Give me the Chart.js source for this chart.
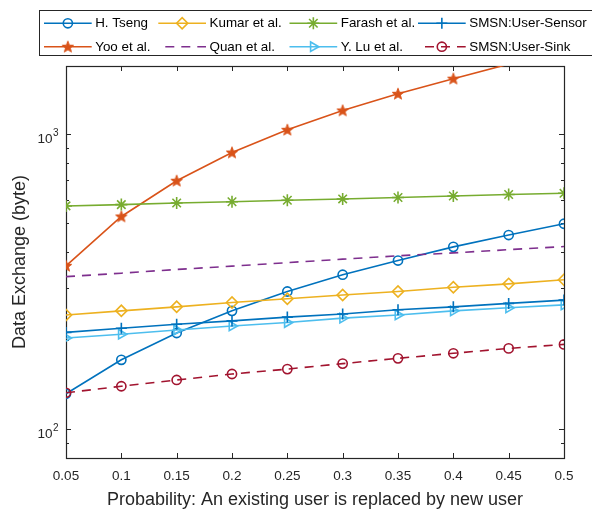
<!DOCTYPE html>
<html><head><meta charset="utf-8">
<script src="https://cdn.jsdelivr.net/npm/chart.js"></script>
<style>html,body{margin:0;padding:0;background:#fff}#wrap{width:592px;height:514px;position:relative}</style>
</head><body><div id="wrap"><canvas id="c" width="592" height="514"></canvas></div>
<script>
// ---- data ----
const probabilities = [0.05, 0.1, 0.15, 0.2, 0.25, 0.3, 0.35, 0.4, 0.45, 0.5];
const xTickLabels = ['0.05', '0.1', '0.15', '0.2', '0.25', '0.3', '0.35', '0.4', '0.45', '0.5'];
const hTseng     = [132, 172, 212, 252, 293, 334, 373, 415, 455, 497];
const yoo        = [358, 526, 695, 866, 1034, 1202, 1369, 1540, 1725, 1885];
const kumar      = [244, 252, 260, 269, 277, 285, 293, 303, 311, 321];
const quan       = [329, 338, 348, 357, 367, 377, 387, 396, 406, 416];
const farash     = [571, 577, 584, 590, 597, 603, 610, 617, 624, 630];
const yLu        = [204, 210, 217, 224, 230, 238, 244, 252, 258, 264];
const smsnSensor = [213, 220, 227, 233, 240, 246, 254, 260, 267, 274];
const smsnSink   = [133, 140, 147, 154, 160, 167, 174, 181, 188, 194];
const seriesNames = ['H. Tseng', 'Yoo et al.', 'Kumar et al.', 'Quan et al.', 'Farash et al.', 'Y. Lu et al.', 'SMSN:User-Sensor', 'SMSN:User-Sink'];
const yTickValues = [100, 1000];
const yTickBase = ['10', '10'];
const yTickExponents = ['2', '3'];
const yMinorTicks = [90, 200, 300, 400, 500, 600, 700, 800, 900];
const xTitle = 'Probability: An existing user is replaced by new user';
const yTitle = 'Data Exchange (byte)';
const Y_MIN = 80, Y_MAX = 1700;

// ---- styles ----
const FONT = '"Liberation Sans", Arial, Helvetica, sans-serif';
const AX = '#262626';
const C = {blue:'#0072BD', orange:'#D95319', yellow:'#EDB120', purple:'#7E2F8E', green:'#77AC30', cyan:'#4DBEEE', red:'#A2142F'};
const DASH = [9, 7];

function makePentagram(color) {
  const c = document.createElement('canvas'); c.width = 14; c.height = 14;
  const g = c.getContext('2d');
  g.beginPath();
  for (let i = 0; i < 10; i++) {
    const r = i % 2 ? 2.5 : 6;
    const a = -Math.PI / 2 + i * Math.PI / 5;
    const px = 7 + r * Math.cos(a), py = 7.4 + r * Math.sin(a);
    if (i) g.lineTo(px, py); else g.moveTo(px, py);
  }
  g.closePath();
  g.fillStyle = color; g.fill();
  g.strokeStyle = color; g.lineWidth = 1; g.stroke();
  return c;
}
const star = makePentagram(C.orange);

function pts(arr) { return probabilities.map((p, i) => ({x: p, y: arr[i]})); }
const hideAbove = r => ctx => (ctx.raw && ctx.raw.y > Y_MAX) ? 0 : r;

const specs = [
  {data: hTseng, color: C.blue, style: 'circle', r: 4.6},
  {data: yoo, color: C.orange, style: star, r: 6},
  {data: kumar, color: C.yellow, style: 'rectRot', r: 5.6},
  {data: quan, color: C.purple, style: false, r: 0, dash: DASH},
  {data: farash, color: C.green, style: 'star', r: 6},
  {data: yLu, color: C.cyan, style: 'triangle', r: 5.5, rot: 90},
  {data: smsnSensor, color: C.blue, style: 'cross', r: 5.5},
  {data: smsnSink, color: C.red, style: 'circle', r: 4.6, dash: DASH},
];

const datasets = specs.map((s, i) => ({
  label: seriesNames[i],
  data: pts(s.data),
  borderColor: s.color,
  backgroundColor: 'rgba(0,0,0,0)',
  borderWidth: 1.6,
  borderDash: s.dash || [],
  pointStyle: s.style,
  pointRadius: hideAbove(s.r),
  pointRotation: s.rot || 0,
  pointBorderColor: s.color,
  pointBackgroundColor: 'rgba(0,0,0,0)',
  pointBorderWidth: 1.6,
  tension: 0,
  order: specs.length - i
}));

const axesBox = {
  id: 'axesBox',
  beforeDatasetsDraw(chart) {
    const {ctx, chartArea: a, scales: {x, y}} = chart;
    ctx.save();
    ctx.strokeStyle = AX; ctx.lineWidth = 1.2;
    ctx.strokeRect(Math.round(a.left) + 0.5, Math.round(a.top) + 0.5, Math.round(a.right - a.left), Math.round(a.bottom - a.top));
    ctx.lineWidth = 1;
    ctx.beginPath();
    probabilities.forEach(p => {
      const px = Math.round(x.getPixelForValue(p)) + 0.5;
      ctx.moveTo(px, a.bottom); ctx.lineTo(px, a.bottom - 5);
      ctx.moveTo(px, a.top); ctx.lineTo(px, a.top + 5);
    });
    yTickValues.forEach(v => {
      const py = Math.round(y.getPixelForValue(v)) + 0.5;
      ctx.moveTo(a.left, py); ctx.lineTo(a.left + 5, py);
      ctx.moveTo(a.right, py); ctx.lineTo(a.right - 5, py);
    });
    yMinorTicks.forEach(v => {
      const py = Math.round(y.getPixelForValue(v)) + 0.5;
      ctx.moveTo(a.left, py); ctx.lineTo(a.left + 3, py);
      ctx.moveTo(a.right, py); ctx.lineTo(a.right - 3, py);
    });
    ctx.stroke();
    // y tick labels with superscript exponents
    ctx.fillStyle = AX;
    ctx.textBaseline = 'middle';
    yTickValues.forEach((v, i) => {
      const py = y.getPixelForValue(v);
      const rightEdge = a.left - 7.5;
      ctx.font = '10px ' + FONT;
      const ew = ctx.measureText(yTickExponents[i]).width;
      ctx.textAlign = 'left';
      ctx.fillText(yTickExponents[i], rightEdge - ew, py - 1);
      ctx.font = '13.5px ' + FONT;
      ctx.textAlign = 'right';
      ctx.fillText(yTickBase[i], rightEdge - ew - 0.5, py + 5);
    });
    ctx.restore();
  }
};

const legendBox = {
  id: 'legendBox',
  afterDraw(chart) {
    const {ctx} = chart;
    const colX = [44, 158.3, 289.5, 418];
    const rowY = [23.3, 46.7];
    ctx.save();
    ctx.fillStyle = '#fff';
    ctx.fillRect(39.5, 10.5, 600, 45);
    ctx.strokeStyle = AX; ctx.lineWidth = 1;
    ctx.strokeRect(39.5, 10.5, 600, 45);
    ctx.font = '13.4px ' + FONT;
    ctx.textBaseline = 'middle'; ctx.textAlign = 'left';
    datasets.forEach((ds, i) => {
      const col = Math.floor(i / 2), row = i % 2;
      const x0 = colX[col], yy = rowY[row], len = 47.7;
      const s = specs[i];
      ctx.strokeStyle = s.color; ctx.lineWidth = 1.6;
      if (s.dash) { ctx.setLineDash(s.dash); ctx.lineDashOffset = 9; } else { ctx.setLineDash([]); }
      ctx.beginPath(); ctx.moveTo(x0, yy); ctx.lineTo(x0 + len, yy); ctx.stroke();
      ctx.setLineDash([]);
      if (s.style && Chart.helpers && Chart.helpers.drawPoint) {
        ctx.fillStyle = 'rgba(0,0,0,0)';
        ctx.strokeStyle = s.color; ctx.lineWidth = 1.6;
        Chart.helpers.drawPoint(ctx, {pointStyle: s.style, radius: s.r, rotation: s.rot || 0, borderWidth: 1.6}, x0 + len / 2, yy);
      }
      ctx.fillStyle = '#000';
      ctx.fillText(ds.label, x0 + len + 3.5, yy + 0.5);
    });
    ctx.restore();
  }
};

new Chart(document.getElementById('c'), {
  type: 'line',
  data: {datasets},
  options: {
    responsive: false,
    animation: false,
    devicePixelRatio: 1,
    layout: {padding: {top: 66, right: 28, left: 0, bottom: 0}},
    plugins: {legend: {display: false}, tooltip: {enabled: false}},
    scales: {
      x: {
        type: 'linear', position: 'bottom', min: 0.05, max: 0.5, bounds: 'data',
        grid: {display: false, drawTicks: false}, border: {display: false},
        afterBuildTicks: s => { s.ticks = probabilities.map(v => ({value: v})); },
        afterFit: s => { s.height = 56; },
        ticks: {
          autoSkip: false, maxRotation: 0, padding: 10, color: AX,
          font: {family: FONT, size: 13.5},
          callback: (v) => { const i = probabilities.findIndex(p => Math.abs(p - v) < 1e-9); return i >= 0 ? xTickLabels[i] : ''; }
        },
        title: {display: true, text: xTitle, color: AX, font: {family: FONT, size: 18}, padding: {top: 0, bottom: 3}}
      },
      y: {
        type: 'logarithmic', min: Y_MIN, max: Y_MAX, bounds: 'data',
        grid: {display: false, drawTicks: false}, border: {display: false},
        afterBuildTicks: s => { s.ticks = yTickValues.map(v => ({value: v})); },
        afterFit: s => { s.width = 66; },
        ticks: {display: false},
        title: {display: true, text: yTitle, color: AX, font: {family: FONT, size: 18}, padding: {top: 9, bottom: 0}}
      }
    }
  },
  plugins: [axesBox, legendBox]
});
</script>
</body></html>
